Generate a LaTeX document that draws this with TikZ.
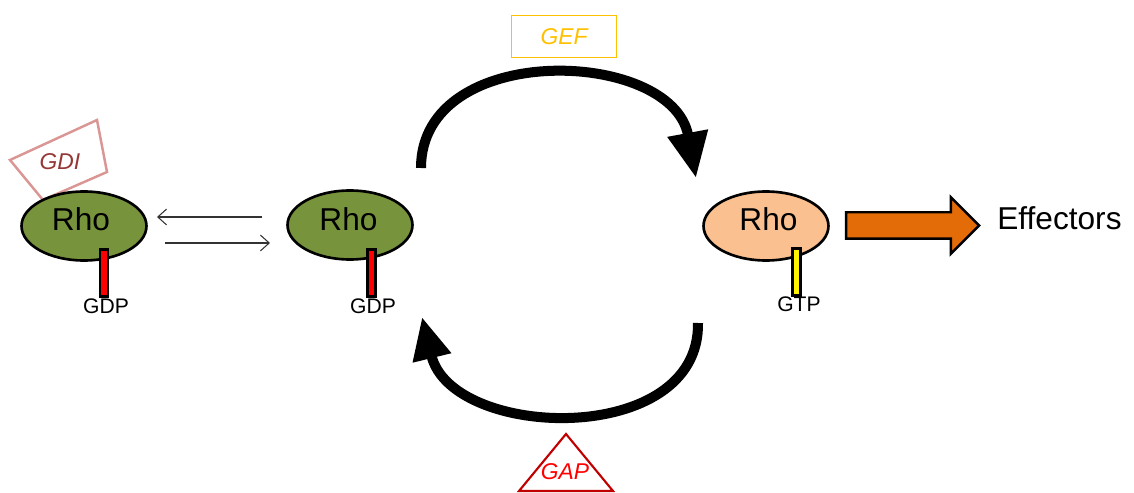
\documentclass[tikz,border=0pt]{standalone}
\usepackage{fontspec}
\setmainfont{Liberation Sans}
\usetikzlibrary{arrows.meta,shapes.geometric,shapes.arrows}

\definecolor{rhoGreen}{HTML}{77933C}
\definecolor{rhoPeach}{HTML}{FAC090}
\definecolor{effOrange}{HTML}{E36C09}
\definecolor{gefGold}{HTML}{FFC000}
\definecolor{gdiPink}{HTML}{D99694}
\definecolor{gdiText}{HTML}{953735}
\definecolor{gapLine}{HTML}{C00000}

\begin{document}
\begin{tikzpicture}[x=0.02cm, y=-0.02cm,
  rhoBase/.style={ellipse, draw=black, line width=1.5pt, inner sep=0,
    minimum width=2.5cm, minimum height=1.38cm},
  rhoInactive/.style={rhoBase, fill=rhoGreen},
  rhoActive/.style={rhoBase, fill=rhoPeach},
  rhoText/.style={font=\fontsize{18}{21}\selectfont, inner sep=0},
  nucBar/.style={draw=black, line width=1.7pt, inner sep=0,
    minimum width=0.16cm, minimum height=0.94cm},
  nucText/.style={font=\fontsize{12}{14}\selectfont, inner sep=0, anchor=north},
  facText/.style={font=\itshape\fontsize{13}{15}\selectfont, inner sep=0},
  thinArrow/.style={draw=black!80, line width=0.6pt,
    -{Straight Barb[length=5pt,width=9pt]}},
  cycleArrow/.style={draw=black, line width=5.7pt}
]
\useasboundingbox (0,0) rectangle (1134,493);

% ---- GDI-bound Rho-GDP ----
\node[facText, text=gdiText] (gdi) at (60,162) {GDI};
\draw[gdiPink, line width=1.4pt, line join=miter]
  (10,160) -- (97,120) -- (107,172) -- (43,200) -- cycle;
\node[rhoInactive] (rhoA) at (84,226) {};
\node[rhoText] (rhoAt) at (81,219.5) {Rho};
\node[nucBar, fill=red] (barA) at (104,273) {};
\node[nucText] (gdpA) at (106,298) {GDP};

% ---- free Rho-GDP ----
\node[rhoInactive] (rhoB) at (350,225) {};
\node[rhoText] (rhoBt) at (348.5,219.5) {Rho};
\node[nucBar, fill=red] (barB) at (371.5,273) {};
\node[nucText] (gdpB) at (373,298) {GDP};

% ---- active Rho-GTP ----
\node[rhoActive] (rhoC) at (766,226) {};
\node[rhoText] (rhoCt) at (768.5,219.5) {Rho};
\node[nucBar, fill=yellow] (barC) at (796.5,272) {};
\node[nucText] (gtpC) at (799,296) {GTP};

% ---- exchange with GDI ----
\coordinate (xBstart) at (262,217);
\coordinate (xAend)   at (157,217);
\coordinate (xAstart) at (165,243);
\coordinate (xBend)   at (270,243);
\draw[thinArrow] (xBstart) -- (xAend);
\draw[thinArrow] (xAstart) -- (xBend);

% ---- GEF / GAP cycle ----
\node[facText, text=gefGold, draw=gefGold, line width=0.8pt,
  minimum width=2.1cm, minimum height=0.84cm] (gef) at (564,36.5) {GEF};
\coordinate (gefStart) at (421,168);
\coordinate (gefEnd)   at (696,178);
\draw[cycleArrow, -{Triangle[length=26pt,width=22pt]}]
  (gefStart) .. controls (421,40) and (672,48) .. (gefEnd);

\coordinate (gapStart) at (698,323);
\coordinate (gapEnd)   at (422,317);
\draw[cycleArrow, -{Triangle[length=24pt,width=21pt]}]
  (gapStart) .. controls (700,448) and (452,440) .. (gapEnd);

\draw[gapLine, line width=1.2pt, line join=miter]
  (566,434) -- (613,491) -- (519,491) -- cycle;
\node[facText, text=red] (gap) at (565,472) {GAP};

% ---- downstream signalling ----
\node[single arrow, draw=black, line width=1.4pt, fill=effOrange,
  inner sep=0.24cm, minimum height=2.66cm, single arrow head extend=0.3cm,
  single arrow tip angle=90] (sig) at (906,225.5) {};
\node[rhoText, anchor=west] (eff) at (997,218.5) {Effectors};
\end{tikzpicture}
\end{document}
